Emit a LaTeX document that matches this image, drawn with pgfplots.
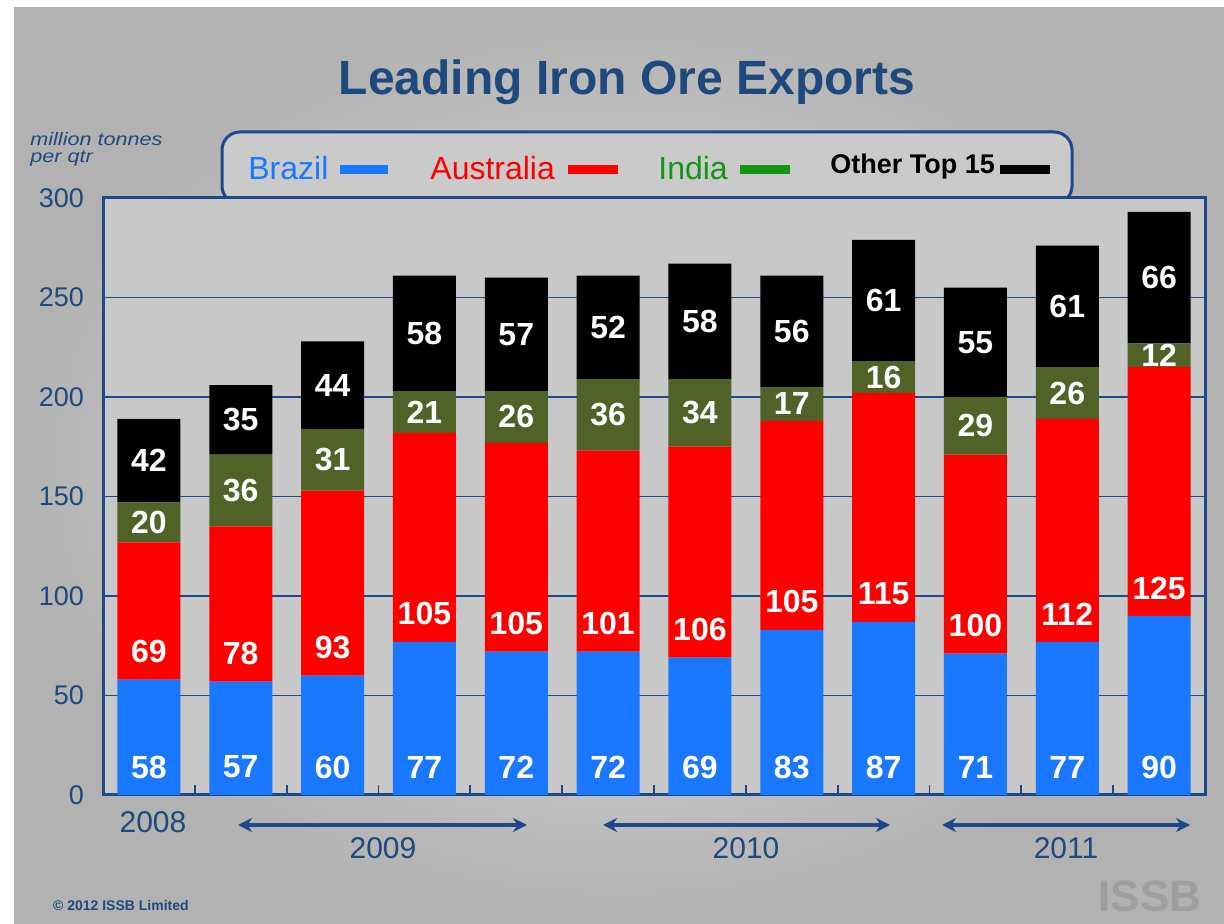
\documentclass[border=0pt]{standalone}
\usepackage{pgfplots}
\pgfplotsset{compat=1.18}
\usepackage{pgfplotstable}
\usepackage{fontspec}
\setmainfont{Liberation Sans}
\usetikzlibrary{arrows.meta}

\definecolor{brazil}{RGB}{25,120,255}
\definecolor{australia}{RGB}{255,0,0}
\definecolor{india}{RGB}{80,98,40}
\definecolor{indialeg}{RGB}{20,150,20}
\definecolor{frameblue}{RGB}{30,72,135}
\definecolor{titleblue}{RGB}{31,73,125}
\definecolor{plotbg}{RGB}{200,200,200}
\definecolor{legbg}{RGB}{202,202,202}
\definecolor{bgin}{RGB}{228,228,228}
\definecolor{bgout}{RGB}{178,178,178}

\pgfplotstableread{
x B A G O
0 58 69 20 42
1 57 78 36 35
2 60 93 31 44
3 77 105 21 58
4 72 105 26 57
5 72 101 36 52
6 69 106 34 58
7 83 105 17 56
8 87 115 16 61
9 71 100 29 55
10 77 112 26 61
11 90 125 12 66
}\data

\pgfplotstableread{
x y lab
0 14 58
1 14 57
2 14 60
3 14 77
4 14 72
5 14 72
6 14 69
7 14 83
8 14 87
9 14 71
10 14 77
11 14 90
0 72 69
1 71 78
2 74 93
3 91 105
4 86 105
5 86 101
6 83 106
7 97 105
8 101 115
9 85 100
10 91 112
11 104 125
0 137 20
1 153 36
2 168.5 31
3 192.5 21
4 190 26
5 191 36
6 192 34
7 196.5 17
8 210 16
9 185.5 29
10 202 26
11 221 12
0 168 42
1 188.5 35
2 206 44
3 232 58
4 231.5 57
5 235 52
6 238 58
7 233 56
8 248.5 61
9 227.5 55
10 245.5 61
11 260 66
}\labels

\begin{document}
\begin{tikzpicture}
\path[use as bounding box] (0pt,0pt) rectangle (612pt,462pt);
\begin{scope}[x=0.5pt,y=0.5pt]
\fill[white] (0,0) rectangle (1224,924);
\shade[inner color=bgin, outer color=bgout] (14,0) rectangle (1224,916);
% title
\node[text=titleblue, font=\fontsize{24}{24}\selectfont\bfseries] at (627,842) {Leading Iron Ore Exports};
% y label
\node[anchor=west, text=titleblue, font=\fontsize{9}{9}\selectfont\itshape, inner sep=0pt] at (30,785) {\scalebox{1.2}[1]{million tonnes}};
\node[anchor=west, text=titleblue, font=\fontsize{9}{9}\selectfont\itshape, inner sep=0pt] at (30,765) {\scalebox{1.2}[1]{per qtr}};
% legend box
\draw[frameblue, line width=1.5pt, rounded corners=9pt, fill=legbg] (222,720) rectangle (1072,792);
\node[anchor=west, text=brazil, font=\fontsize{16}{16}\selectfont, inner sep=0pt] at (248,756) {Brazil};
\fill[brazil] (340,750) rectangle (388,759);
\node[anchor=west, text=australia, font=\fontsize{16}{16}\selectfont, inner sep=0pt] at (430,756) {Australia};
\fill[australia] (568,750) rectangle (618,759);
\node[anchor=west, text=indialeg, font=\fontsize{16}{16}\selectfont, inner sep=0pt] at (658,756) {India};
\fill[indialeg] (740,750) rectangle (790,759);
\node[anchor=west, text=black, font=\fontsize{13.5}{13.5}\selectfont\bfseries, inner sep=0pt] at (830,757) {Other Top 15};
\fill[black] (1000,750) rectangle (1050,759);
\end{scope}

\begin{axis}[
  at={(51.5pt,64.5pt)}, anchor=south west,
  scale only axis, width=551pt, height=298.5pt,
  xmin=-0.5, xmax=11.5, ymin=0, ymax=300,
  ybar stacked, bar width=31.5pt,
  axis background/.style={fill=plotbg},
  axis line style={draw=frameblue, line width=1.5pt},
  ytick={0,50,...,300},
  ymajorgrids, grid style={draw=frameblue, line width=0.9pt},
  xtick={0.5,1.5,...,10.5}, xticklabels={},
  xtick pos=bottom, ytick pos=left, tick align=inside,
  xtick style={draw=frameblue, line width=0.9pt},
  major tick length=5pt,
  ytick style={draw=none},
  yticklabel style={font=\fontsize{13.5}{13.5}\selectfont, text=titleblue, xshift=-6pt},
  /pgf/number format/assume math mode=true,
]
\addplot[fill=brazil, draw=none] table[x=x, y=B] \data;
\addplot[fill=australia, draw=none] table[x=x, y=A] \data;
\addplot[fill=india, draw=none] table[x=x, y=G] \data;
\addplot[fill=black, draw=none] table[x=x, y=O] \data;
\end{axis}

\begin{axis}[
  at={(51.5pt,64.5pt)}, anchor=south west,
  scale only axis, width=551pt, height=298.5pt,
  xmin=-0.5, xmax=11.5, ymin=0, ymax=300,
  hide axis, clip=false,
]
\addplot[draw=none, mark=none, nodes near coords, point meta=explicit symbolic,
  every node near coord/.append style={anchor=center, text=white, font=\fontsize{16}{16}\selectfont\bfseries}]
  table[x=x, y=y, meta=lab] \labels;
\end{axis}

\begin{scope}[x=0.5pt,y=0.5pt]
\node[text=titleblue, font=\fontsize{15}{15}\selectfont] at (153,102) {2008};
\draw[frameblue, line width=2pt, {Stealth[length=7pt,width=7pt]}-{Stealth[length=7pt,width=7pt]}] (238,99) -- (527,99);
\node[text=titleblue, font=\fontsize{15}{15}\selectfont] at (383,76) {2009};
\draw[frameblue, line width=2pt, {Stealth[length=7pt,width=7pt]}-{Stealth[length=7pt,width=7pt]}] (603,99) -- (890,99);
\node[text=titleblue, font=\fontsize{15}{15}\selectfont] at (746,76) {2010};
\draw[frameblue, line width=2pt, {Stealth[length=7pt,width=7pt]}-{Stealth[length=7pt,width=7pt]}] (942,99) -- (1190,99);
\node[text=titleblue, font=\fontsize{15}{15}\selectfont] at (1066,76) {2011};
\node[anchor=west, text=titleblue, font=\fontsize{7}{7}\selectfont\bfseries] at (46,19) {© 2012 ISSB Limited};
\node[anchor=south west, inner sep=0pt, text=gray!75, font=\fontsize{22}{22}\selectfont\bfseries] at (1098,12) {ISSB};
\end{scope}
\end{tikzpicture}
\end{document}
